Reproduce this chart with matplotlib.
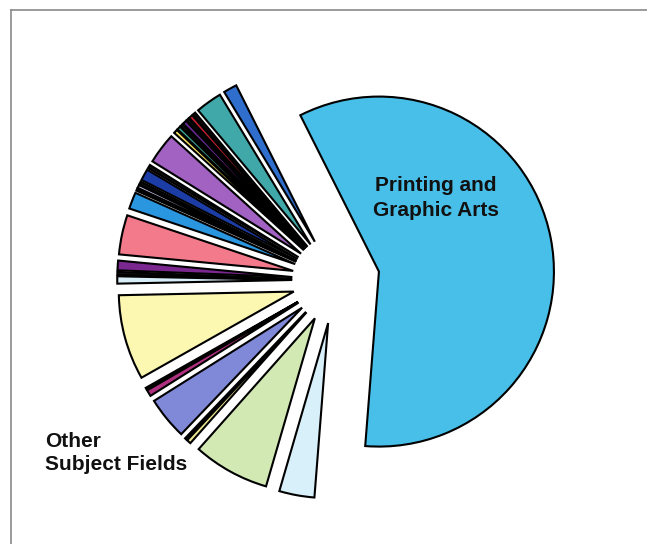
import matplotlib
matplotlib.use("Agg")
import matplotlib.pyplot as plt
from matplotlib.lines import Line2D

# shares in percent, counter-clockwise from the big slice
labels = ["Printing and Graphic Arts", "s1", "s2", "s3", "s4", "s5", "s6", "s7", "s8", "s9",
          "s10", "s11", "s12", "s13", "s14", "s15", "s16", "s17", "s18", "s19",
          "s20", "s21", "s22", "s23", "s24", "s25", "s26", "s27", "s28"]
shares = [58.67, 1.25, 2.44, 0.28, 0.36, 0.25, 0.36, 0.25, 0.33, 0.36,
          2.86, 0.33, 1.06, 0.28, 0.28, 0.22, 1.53, 3.64, 0.89, 0.28,
          0.67, 7.86, 0.17, 0.58, 3.92, 0.19, 0.39, 7.06, 3.25]
colors = ["#48bfe8", "#2f6ecc", "#40a8a8", "#111111", "#c82030", "#151515", "#6a2a9a", "#151515",
          "#3aa890", "#f0e060", "#a262c2", "#111111", "#1c3ca6", "#111111", "#c8c0e8",
          "#111111", "#2a96e0", "#f27a8a", "#7a2890", "#111111", "#d8eef8", "#fcf8b2",
          "#111111", "#b03080", "#8088d8", "#222222", "#eee890", "#d2e9b4", "#d8f0fa"]

fig = plt.figure(figsize=(6.47, 5.44), dpi=100)
ax = fig.add_axes([0, 0, 1, 1])

ax.pie(shares, colors=colors, explode=[0.25] * len(shares), startangle=265.5,
       counterclock=True, radius=1,
       wedgeprops=dict(edgecolor="black", linewidth=1.5))

# pie centre sits at (336, 280) px, radius 175 px
ax.set_xlim(-336 / 175, (647 - 336) / 175)
ax.set_ylim(-(544 - 280) / 175, 280 / 175)
ax.set_aspect("equal")
ax.axis("off")

fig.text(436 / 647, 1 - 198 / 544, "Printing and\nGraphic Arts", ha="center", va="center",
         fontsize=15, fontweight="bold", family="Liberation Sans", color="#111111",
         linespacing=1.35)
fig.text(45 / 647, 1 - 453 / 544, "Other\nSubject Fields", ha="left", va="center",
         fontsize=15, fontweight="bold", family="Liberation Sans", color="#111111",
         linespacing=1.3)

# thin border along top and left
fig.add_artist(Line2D([11 / 647, 1], [1 - 10 / 544, 1 - 10 / 544], color="#8a8a8a", lw=1.2))
fig.add_artist(Line2D([11 / 647, 11 / 647], [0, 1 - 10 / 544], color="#8a8a8a", lw=1.2))

fig.savefig("out.png", dpi=100)
